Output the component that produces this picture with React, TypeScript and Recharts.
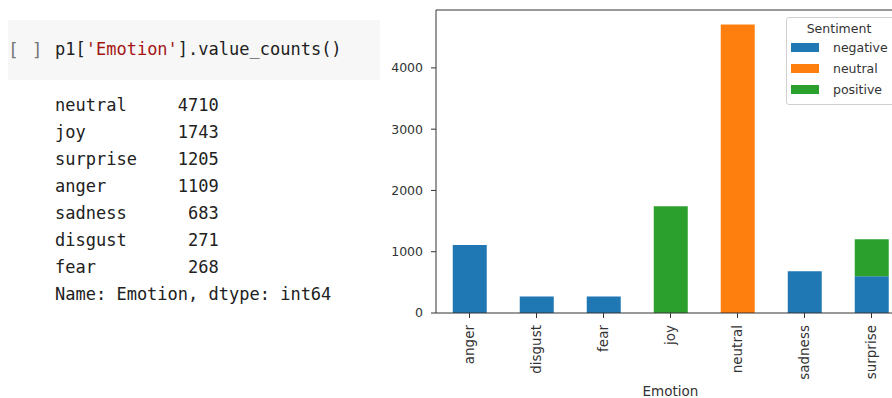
import { BarChart, Bar, XAxis, YAxis, ReferenceLine } from 'recharts'

// value_counts() output shown in the notebook cell
const COUNT_LABELS = ['neutral', 'joy', 'surprise', 'anger', 'sadness', 'disgust', 'fear']
const COUNT_VALUES = [4710, 1743, 1205, 1109, 683, 271, 268]

// stacked bar data, one entry per emotion
const EMOTIONS = ['anger', 'disgust', 'fear', 'joy', 'neutral', 'sadness', 'surprise']
const NEGATIVE = [1109, 271, 268, 0, 0, 683, 600]
const NEUTRAL = [0, 0, 0, 0, 4710, 0, 0]
const POSITIVE = [0, 0, 0, 1743, 0, 0, 605]
const Y_TICKS = [0, 1000, 2000, 3000, 4000]
const Y_MAX = 4945

const SERIES = [
  { key: 'negative', color: '#1f77b4' },
  { key: 'neutral', color: '#ff7f0e' },
  { key: 'positive', color: '#2ca02c' },
]

const chartData = EMOTIONS.map((e, i) => ({
  emotion: e,
  negative: NEGATIVE[i],
  neutral: NEUTRAL[i],
  positive: POSITIVE[i],
}))

const AXIS_COLOR = '#333'
const FONT = '"DejaVu Sans", sans-serif'
const MONO = '"DejaVu Sans Mono", monospace'

function RotatedTick({ x, y, payload }: { x?: number; y?: number; payload?: { value: string } }) {
  return (
    <g transform={`translate(${x},${y})`}>
      <text
        transform="rotate(-90)"
        textAnchor="end"
        dy={4}
        fontSize={13.5}
        fontFamily={FONT}
        fill={AXIS_COLOR}
      >
        {payload?.value}
      </text>
    </g>
  )
}

function SentimentLegend() {
  return (
    <div
      style={{
        position: 'absolute',
        left: 786,
        top: 17,
        fontFamily: FONT,
        fontSize: 12.5,
        color: AXIS_COLOR,
        background: 'rgba(255,255,255,0.8)',
        border: '1px solid #d0d0d0',
        borderRadius: 3,
        width: 116,
        height: 88,
        boxSizing: 'border-box',
        padding: '3px 0 0 4px',
      }}
    >
      <div style={{ textAlign: 'center', width: 96, lineHeight: '16px' }}>Sentiment</div>
      {SERIES.map(s => (
        <div key={s.key} style={{ display: 'flex', alignItems: 'center', height: 21 }}>
          <span style={{ display: 'inline-block', width: 28, height: 9, background: s.color }} />
          <span style={{ marginLeft: 14 }}>{s.key}</span>
        </div>
      ))}
    </div>
  )
}

export default function App() {
  const lines = COUNT_LABELS.map((l, i) => l.padEnd(12, ' ') + String(COUNT_VALUES[i]).padStart(4, ' '))
  return (
    <div
      style={{
        position: 'fixed',
        left: 0,
        top: 0,
        width: 892,
        height: 398,
        overflow: 'hidden',
        background: '#fff',
      }}
    >
      {/* notebook cell */}
      <div
        style={{
          position: 'absolute',
          left: 8,
          top: 20,
          width: 372,
          height: 60,
          background: '#f7f7f7',
        }}
      />
      <div
        style={{
          position: 'absolute',
          left: 8,
          top: 39,
          fontFamily: MONO,
          fontSize: 18,
          color: '#777',
          whiteSpace: 'pre',
          letterSpacing: 1,
        }}
      >
        {'[ ]'}
      </div>
      <div
        style={{
          position: 'absolute',
          left: 55,
          top: 39,
          fontFamily: MONO,
          fontSize: 17,
          color: '#212121',
          whiteSpace: 'pre',
        }}
      >
        p1[<span style={{ color: '#a31515' }}>'Emotion'</span>].value_counts()
      </div>
      <pre
        style={{
          position: 'absolute',
          left: 55,
          top: 92,
          margin: 0,
          fontFamily: MONO,
          fontSize: 17,
          lineHeight: '27px',
          color: '#212121',
        }}
      >
        {lines.join('\n') + '\nName: Emotion, dtype: int64'}
      </pre>

      {/* chart */}
      <div style={{ position: 'absolute', left: 380, top: 0 }}>
        <BarChart
          width={540}
          height={398}
          data={chartData}
          margin={{ top: 10, right: 15, left: 0, bottom: 0 }}
          barCategoryGap="25%"
        >
          <XAxis
            dataKey="emotion"
            height={85}
            tick={<RotatedTick />}
            tickSize={5}
            tickMargin={7}
            interval={0}
            axisLine={{ stroke: AXIS_COLOR }}
            tickLine={{ stroke: AXIS_COLOR }}
            label={{
              value: 'Emotion',
              position: 'insideBottom',
              offset: 2,
              fontSize: 13.5,
              fontFamily: FONT,
              fill: AXIS_COLOR,
            }}
          />
          <YAxis
            width={56}
            domain={[0, Y_MAX]}
            ticks={Y_TICKS}
            tickSize={5}
            tickMargin={8}
            axisLine={{ stroke: AXIS_COLOR }}
            tickLine={{ stroke: AXIS_COLOR }}
            tick={{ fontSize: 12.5, fontFamily: FONT, fill: AXIS_COLOR }}
            allowDataOverflow
          />
          {SERIES.map(s => (
            <Bar
              key={s.key}
              dataKey={s.key}
              stackId="a"
              fill={s.color}
              isAnimationActive={false}
            />
          ))}
          <ReferenceLine y={Y_MAX} stroke={AXIS_COLOR} />
        </BarChart>
      </div>
      <SentimentLegend />
    </div>
  )
}
